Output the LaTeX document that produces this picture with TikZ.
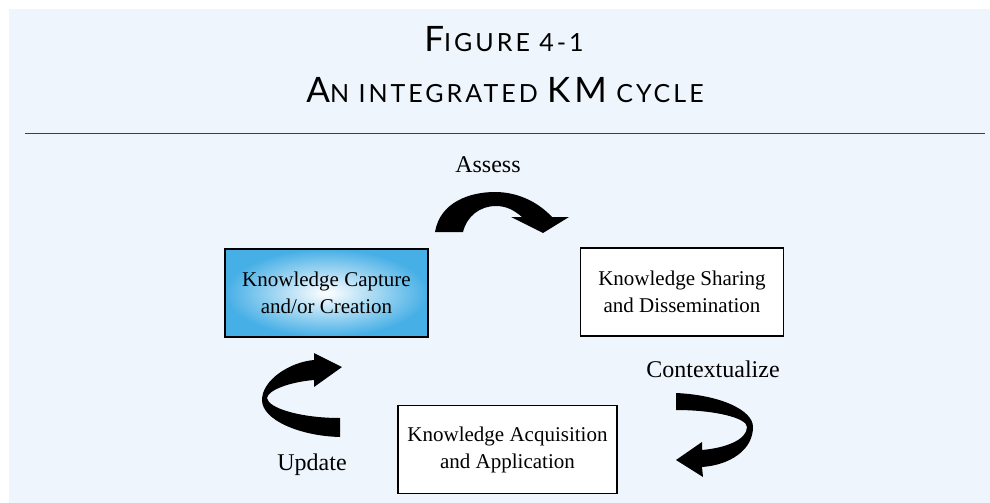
\documentclass[tikz,border=0pt]{standalone}
\usepackage{fontspec}
\setmainfont{Liberation Serif}
\newfontfamily\titlefont{Lato}[LetterSpace=12]
\usetikzlibrary{positioning}
\definecolor{panelblue}{RGB}{238,245,252}
\definecolor{capblue}{RGB}{70,175,230}
\definecolor{rulegray}{RGB}{60,64,70}
\tikzstyle{stage}    = [rectangle, minimum width=203pt, minimum height=88pt, text centered, align=center, draw=black, line width=1.2pt, fill=white, font=\fontsize{21}{27}\selectfont]
\tikzstyle{stagelit} = [stage, inner color=white, outer color=capblue]
\tikzstyle{verb}     = [anchor=base, inner sep=0pt, font=\fontsize{24}{28}\selectfont]
\tikzstyle{heading}  = [anchor=base, inner sep=0pt, font=\titlefont]
\tikzstyle{swoosh}   = [fill=black]
\newcommand{\capsmall}[2]{{\fontsize{35}{38}\selectfont #1}{\fontsize{25}{38}\selectfont #2}}

\begin{document}
\begin{tikzpicture}[x=1pt, y=-1pt]
            \useasboundingbox (0,0) rectangle (990,503);
            \fill[panelblue] (9,9) rectangle (990,503);

            \node[heading] (fig)   at (504,52)  {\capsmall{F}{IGURE 4-1}};
            \node[heading] (title) at (505,102) {\capsmall{A}{N INTEGRATED }\capsmall{KM}{ CYCLE}};
            \coordinate (ruleL) at (25,133.5);
            \coordinate (ruleR) at (985,133.5);
            \draw[rulegray, line width=1.6pt] (ruleL) -- (ruleR);

            \node[stagelit] (capture) at (326.5,293) {Knowledge Capture\\and/or Creation};
            \node[stage] (sharing) at (682,292) {Knowledge Sharing\\and Dissemination};
            \node[stage, minimum width=219pt] (acquire) at (507.5,449.5) {Knowledge Acquisition\\and Application};

            \node[verb] (assess)  at (488,172) {Assess};
            \node[verb] (update)  at (312,470) {Update};
            \node[verb] (context) at (713,377) {Contextualize};

            % capture -> sharing
            \fill[swoosh] (435,232) .. controls (440,202) and (470,192) .. (495,192)
                .. controls (520,192) and (540,204) .. (552,217) -- (569,217) -- (543,233) -- (511,217) -- (522,217)
                .. controls (514,210) and (506,206) .. (496,206)
                .. controls (480,206) and (467,216) .. (463,232) -- cycle;
            % sharing -> acquisition
            \fill[swoosh] (676,393) .. controls (720,395) and (753,410) .. (753,427)
                .. controls (753,450) and (730,465) .. (702,467) -- (703,477) -- (676,460) -- (702,442) -- (702,450)
                .. controls (725,448) and (747,440) .. (747,427)
                .. controls (747,418) and (715,410) .. (676,410) -- cycle;
            % acquisition -> capture
            \fill[swoosh] (340,437) .. controls (300,436) and (262,420) .. (262,400)
                .. controls (262,380) and (290,362) .. (314,360) -- (314,353) -- (342,367) -- (314,387) -- (314,380)
                .. controls (290,382) and (268,390) .. (267,398)
                .. controls (268,408) and (300,418) .. (340,418) -- cycle;
        \end{tikzpicture}
\end{document}
